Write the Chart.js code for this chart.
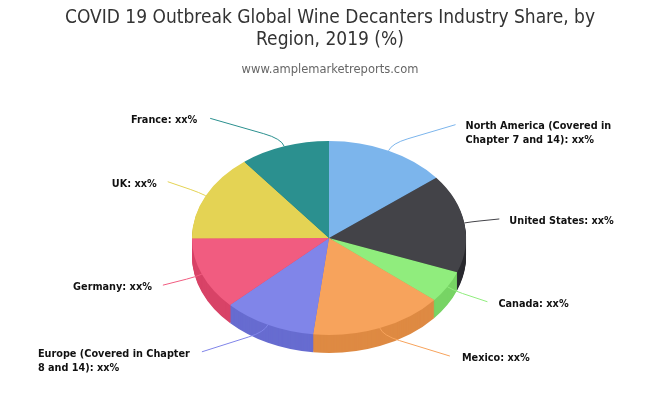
<!DOCTYPE html>
<html>
<head>
<meta charset="utf-8">
<title>Wine Decanters Share</title>
<script src="https://cdn.jsdelivr.net/npm/chart.js@4"></script>
<style>
    html, body { margin: 0; padding: 0; background: #fff; }
    canvas { display: block; }
</style>
</head>
<body>
<canvas id="shareChart" width="660" height="400"></canvas>
<script>
// Data
const categories = ['North America (Covered in\nChapter 7 and 14)', 'United States', 'Canada', 'Mexico',
    'Europe (Covered in Chapter\n8 and 14)', 'Germany', 'UK', 'France'];
const shares = [14.3, 16.4, 5.3, 15.8, 11, 12.1, 14.4, 10.6];
const shareText = 'xx%';
const titleLines = ['COVID 19 Outbreak Global Wine Decanters Industry Share, by', 'Region, 2019 (%)'];
const subtitleText = 'www.amplemarketreports.com';

// Slice colours, the side wall is the same colour made darker
const sliceColors = ['#7cb5ec', '#434348', '#90ed7d', '#f7a35c', '#8085e9', '#f15c80', '#e4d354', '#2b908f'];

// Look of the tilted pie
const pieCenterX = 329;
const pieCenterY = 238;
const pieRadius = 137;
const tilt = 0.708;
const depth = 18;

// Label position relative to the slice edge: dx, dy of the connector end, text side
const labelLayout = [
    { dx: 67, dy: -26, gap: 10, side: 'left' },
    { dx: 35, dy: -4, gap: 10, side: 'left' },
    { dx: 40, dy: 15, gap: 11, side: 'left' },
    { dx: 70, dy: 28, gap: 12, side: 'left' },
    { dx: -66, dy: 27, gap: 12, side: 'right' },
    { dx: -39, dy: 11, gap: 11, side: 'right' },
    { dx: -38, dy: -14, gap: 11, side: 'right' },
    { dx: -74, dy: -28, gap: 13, side: 'right' }
];

function darken(hex) {
    const n = parseInt(hex.slice(1), 16);
    const c = [n >> 16, (n >> 8) & 255, n & 255].map(v => Math.max(0, v - 25));
    return `rgb(${c[0]},${c[1]},${c[2]})`;
}

// Squash the pie and extrude a side wall under it
const tiltPlugin = {
    id: 'tiltPie',
    beforeDatasetsDraw(chart) {
        const ctx = chart.ctx;
        const arcs = chart.getDatasetMeta(0).data;
        ctx.save();
        ctx.translate(pieCenterX, pieCenterY);
        ctx.scale(1, tilt);
        ctx.translate(-arcs[0].x, -arcs[0].y);

        for (let d = depth; d > 0; d--) {
            ctx.save();
            ctx.translate(0, d / tilt);
            arcs.forEach(function (arc, i) {
                const keep = arc.options;
                const side = darken(sliceColors[i]);
                arc.options = Object.assign({}, keep, { backgroundColor: side, borderColor: side });
                arc.draw(ctx);
                arc.options = keep;
            });
            ctx.restore();
        }
    },
    afterDatasetsDraw(chart) {
        chart.ctx.restore();
    }
};

// Connector lines and labels
const labelPlugin = {
    id: 'sliceLabels',
    afterDraw(chart) {
        const ctx = chart.ctx;
        chart.getDatasetMeta(0).data.forEach(function (arc, i) {
            const mid = (arc.startAngle + arc.endAngle) / 2;
            const x0 = pieCenterX + pieRadius * Math.cos(mid);
            const y0 = pieCenterY + pieRadius * tilt * Math.sin(mid);
            const layout = labelLayout[i];
            const x2 = x0 + layout.dx;
            const y2 = y0 + layout.dy;
            // small bend going out of the slice, then straight
            const cx = x0 + 8 * Math.cos(mid);
            const cy = y0 + 8 * Math.sin(mid);
            const bx = cx + (x2 - cx) * 0.25;
            const by = cy + (y2 - cy) * 0.25;

            ctx.save();
            ctx.strokeStyle = sliceColors[i];
            ctx.lineWidth = 1;
            ctx.beginPath();
            ctx.moveTo(x0, y0);
            ctx.quadraticCurveTo(cx, cy, bx, by);
            ctx.lineTo(x2, y2);
            ctx.stroke();

            const lines = (categories[i] + ': ' + shareText).split('\n');
            ctx.font = 'bold 10.8px "DejaVu Sans Condensed", "DejaVu Sans"';
            ctx.fillStyle = '#111';
            ctx.textBaseline = 'middle';
            ctx.textAlign = 'left';
            const widest = Math.max.apply(null, lines.map(t => ctx.measureText(t).width));
            const left = layout.side === 'left' ? x2 + layout.gap : x2 - layout.gap - widest;
            // first line sits next to the connector end
            lines.forEach(function (t, k) {
                ctx.fillText(t, left, y2 + 2 + k * 14);
            });
            ctx.restore();
        });
    }
};

new Chart(document.getElementById('shareChart').getContext('2d'), {
    type: 'pie',
    data: {
        labels: categories,
        datasets: [{
            data: shares,
            backgroundColor: sliceColors,
            borderWidth: 0
        }]
    },
    options: {
        responsive: false,
        animation: false,
        radius: pieRadius,
        plugins: {
            legend: { display: false },
            tooltip: { enabled: false },
            title: {
                display: true,
                text: titleLines,
                color: '#333333',
                font: { family: '"DejaVu Sans Condensed", "DejaVu Sans"', size: 19, weight: 'normal', lineHeight: 1.15 },
                padding: { top: 7, bottom: 12 }
            },
            subtitle: {
                display: true,
                text: subtitleText,
                color: '#666666',
                font: { family: '"DejaVu Sans"', size: 11.5, weight: 'normal' },
                padding: { bottom: 0 }
            }
        }
    },
    plugins: [tiltPlugin, labelPlugin]
});
</script>
</body>
</html>
